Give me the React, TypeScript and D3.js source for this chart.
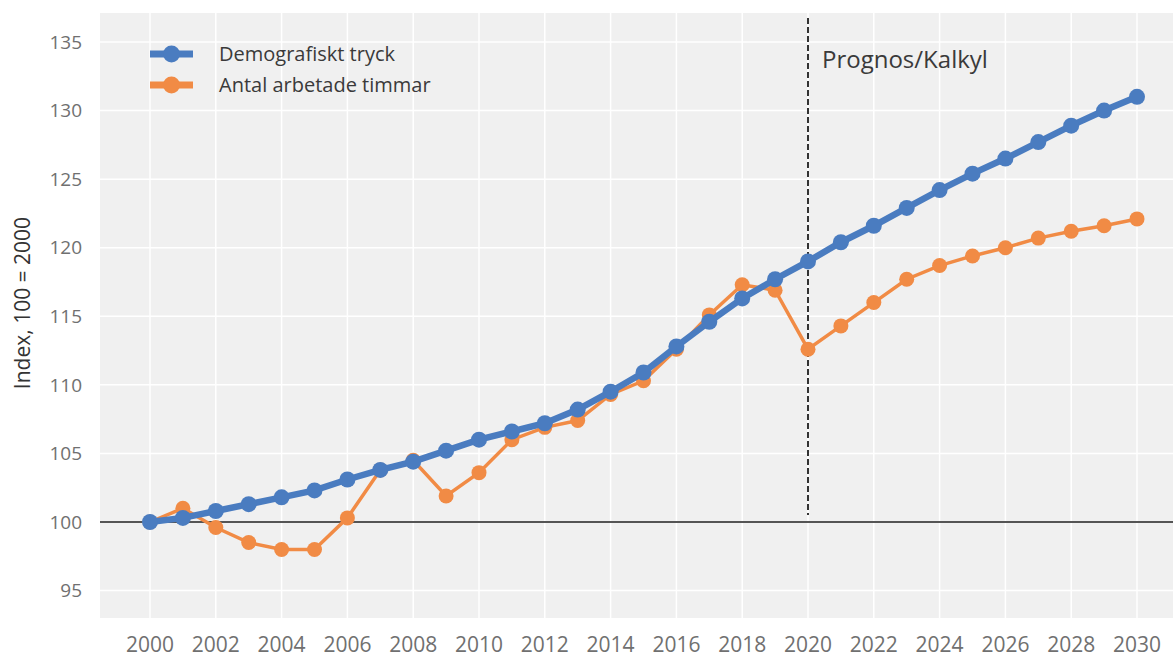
import React from "react";
import * as d3 from "d3";

const years = d3.range(2000, 2031);
const demografisktTryck = [
  100, 100.3, 100.8, 101.3, 101.8, 102.3, 103.1, 103.8, 104.4, 105.2,
  106.0, 106.6, 107.2, 108.2, 109.5, 110.9, 112.8, 114.6, 116.3, 117.7,
  119.0, 120.4, 121.6, 122.9, 124.2, 125.4, 126.5, 127.7, 128.9, 130.0, 131.0,
];
const antalArbetadeTimmar = [
  100, 101.0, 99.6, 98.5, 98.0, 98.0, 100.3, 103.8, 104.5, 101.9,
  103.6, 106.0, 106.9, 107.4, 109.3, 110.3, 112.6, 115.1, 117.3, 116.9,
  112.6, 114.3, 116.0, 117.7, 118.7, 119.4, 120.0, 120.7, 121.2, 121.6, 122.1,
];
const xTicks = d3.range(2000, 2031, 2);
const yTicks = [95, 100, 105, 110, 115, 120, 125, 130, 135];
const seriesNames = ["Demografiskt tryck", "Antal arbetade timmar"];
const forecastYear = 2020;
const forecastLabel = "Prognos/Kalkyl";
const yLabel = "Index, 100 = 2000";

const W = 1173;
const H = 659;
const panel = { left: 100, top: 13, right: 1173, bottom: 618 };
const FONT = "'Open Sans', 'Noto Sans', sans-serif";
const BLUE = "#4a7cc0";
const ORANGE = "#f18b45";

export default function App() {
  const x = d3.scaleLinear().domain([2000, 2030]).range([150, 1137]);
  const y = d3.scaleLinear().domain([100, 135]).range([522, 42]);

  const line = d3
    .line<number>()
    .x((_, i) => x(years[i]))
    .y((d) => y(d));

  return (
    <svg
      width={W}
      height={H}
      style={{ position: "absolute", left: 0, top: 0, background: "#fff" }}
      fontFamily={FONT}
    >
      <rect
        x={panel.left}
        y={panel.top}
        width={panel.right - panel.left}
        height={panel.bottom - panel.top}
        fill="#f0f0f0"
      />
      {xTicks.map((t) => (
        <line
          key={"gx" + t}
          x1={x(t)}
          x2={x(t)}
          y1={panel.top}
          y2={panel.bottom}
          stroke="#ffffff"
          strokeWidth={1.5}
        />
      ))}
      {yTicks.map((t) => (
        <line
          key={"gy" + t}
          x1={panel.left}
          x2={panel.right}
          y1={y(t)}
          y2={y(t)}
          stroke="#ffffff"
          strokeWidth={1.5}
        />
      ))}
      <line
        x1={panel.left}
        x2={panel.right}
        y1={y(100)}
        y2={y(100)}
        stroke="#555"
        strokeWidth={2}
      />
      <line
        x1={x(forecastYear)}
        x2={x(forecastYear)}
        y1={18}
        y2={515}
        stroke="#333"
        strokeWidth={2}
        strokeDasharray="6,3"
      />
      <text x={822} y={68} fontSize={24} fill="#3a3a3a">
        {forecastLabel}
      </text>

      {yTicks.map((t) => (
        <text
          key={"ty" + t}
          x={82}
          y={y(t)}
          dy="0.35em"
          textAnchor="end"
          fontSize={19}
          fill="#707070"
        >
          {t}
        </text>
      ))}
      {xTicks.map((t) => (
        <text
          key={"tx" + t}
          x={x(t)}
          y={652}
          textAnchor="middle"
          fontSize={21}
          fill="#707070"
        >
          {t}
        </text>
      ))}
      <text
        transform={`translate(30,303) rotate(-90)`}
        textAnchor="middle"
        fontSize={21}
        fill="#333"
      >
        {yLabel}
      </text>

      <path
        d={line(antalArbetadeTimmar) || ""}
        fill="none"
        stroke={ORANGE}
        strokeWidth={3.5}
      />
      {antalArbetadeTimmar.map((v, i) => (
        <circle key={"o" + i} cx={x(years[i])} cy={y(v)} r={7.5} fill={ORANGE} />
      ))}
      <path
        d={line(demografisktTryck) || ""}
        fill="none"
        stroke={BLUE}
        strokeWidth={6.5}
      />
      {demografisktTryck.map((v, i) => (
        <circle key={"b" + i} cx={x(years[i])} cy={y(v)} r={8} fill={BLUE} />
      ))}

      {seriesNames.map((name, i) => {
        const ly = 54 + i * 31;
        const c = i === 0 ? BLUE : ORANGE;
        return (
          <g key={name}>
            <line x1={150} x2={193} y1={ly} y2={ly} stroke={c} strokeWidth={7} />
            <circle cx={171.5} cy={ly} r={8.5} fill={c} />
            <text x={219} y={ly} dy="0.35em" fontSize={20} fill="#3a3a3a">
              {name}
            </text>
          </g>
        );
      })}
    </svg>
  );
}
